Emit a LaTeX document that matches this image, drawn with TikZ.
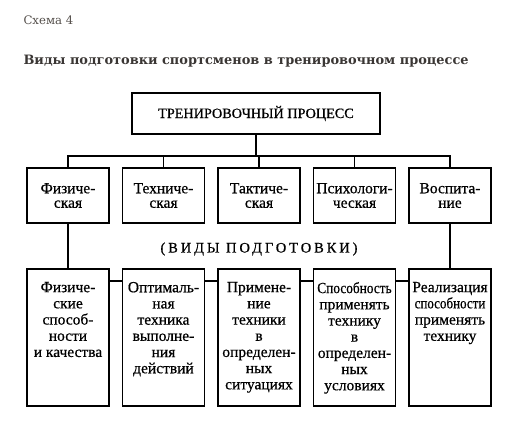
\documentclass[tikz,border=0pt]{standalone}
\usepackage{fontspec}
\setmainfont{Liberation Serif}[FakeBold=0.6]
\newfontfamily\headfont{DejaVu Serif}
\newfontfamily\spacedfont[LetterSpace=20,FakeBold=0.6]{Liberation Serif}
\definecolor{headgray}{HTML}{3A3634}
\definecolor{subgray}{HTML}{55504C}
\newcommand\tallbox[1]{\parbox[c][137pt][t]{82pt}{\centering\fontsize{15.5}{16.2}\selectfont\vspace*{13pt}#1}}
\newcommand\narrow[2]{\scalebox{#1}[1]{#2}}
\begin{document}
\begin{tikzpicture}[x=1pt,y=-1pt,
  box/.style={draw,line width=1.3pt,inner sep=0pt,align=center,font=\fontsize{15.5}{14.5}\selectfont},
  kindbox/.style={box,minimum width=82pt,minimum height=55pt},
  contbox/.style={box,minimum width=82pt,minimum height=137pt},
  link/.style={line width=1.3pt}]
\useasboundingbox (0,0) rectangle (531,434);
\fill[white] (0,0) rectangle (531,434);
\node[anchor=west,text=subgray,font=\headfont\fontsize{11.7}{14}\selectfont] (scheme) at (20,20) {Схема 4};
\node[anchor=west,text=headgray,font=\headfont\bfseries\fontsize{12.9}{15}\selectfont] (title) at (20,61) {Виды подготовки спортсменов в тренировочном процессе};
\node[box,minimum width=248pt,minimum height=41pt,font=\fontsize{14.2}{17}\selectfont] (top) at (256,113.5) {ТРЕНИРОВОЧНЫЙ ПРОЦЕСС};
\node[kindbox] (k1) at (68,195.5) {Физиче-\\ская};
\node[kindbox] (k2) at (163.5,195.5) {Техниче-\\ская};
\node[kindbox] (k3) at (259,195.5) {Тактиче-\\ская};
\node[kindbox] (k4) at (354.5,195.5) {Психологи-\\ческая};
\node[kindbox] (k5) at (450,195.5) {Воспита-\\ние};
\node[font=\spacedfont\fontsize{14.5}{16}\selectfont] (kinds) at (259,249) {(ВИДЫ ПОДГОТОВКИ)};
\node[contbox] (c1) at (68,337.5) {\tallbox{Физиче-\\ские\\способ-\\ности\\и качества}};
\node[contbox] (c2) at (163.5,337.5) {\tallbox{Оптималь-\\ная\\техника\\выполне-\\ния\\действий}};
\node[contbox] (c3) at (259,337.5) {\tallbox{Примене-\\ние\\техники\\в\\определен-\\ных\\ситуациях}};
\node[contbox] (c4) at (354.5,337.5) {\tallbox{\narrow{0.86}{Способность}\\применять\\технику\\в\\определен-\\ных\\условиях}};
\node[contbox] (c5) at (450,337.5) {\tallbox{Реализация\\\narrow{0.84}{способности}\\применять\\технику}};
\coordinate (bus) at (0,156);
\draw[link] (top.south) -- (top.south |- bus);
\draw[link] (k1.north) -- (k1.north |- bus) -- (k5.north |- bus) -- (k5.north);
\foreach \k in {k2,k3,k4} \draw[link] (\k.north) -- (\k.north |- bus);
\draw[link] (k1.south) -- (c1.north);
\draw[link] (k5.south) -- (c5.north);
\coordinate (row) at (0,281);
\draw[link] (c1.east |- row) -- (c2.west |- row);
\draw[link] (c2.east |- row) -- (c3.west |- row);
\draw[link] (c3.east |- row) -- (c4.west |- row);
\draw[link] (c4.east |- row) -- (c5.west |- row);
\end{tikzpicture}
\end{document}
